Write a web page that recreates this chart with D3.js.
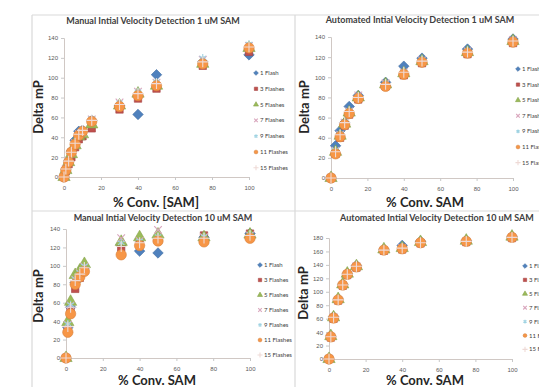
<!DOCTYPE html>
<html>
<head>
<meta charset="utf-8">
<script src="https://cdn.jsdelivr.net/npm/d3@7"></script>
<style>
  body { margin: 0; background: #fff; }
  svg { display: block; font-family: Lato, "Open Sans", sans-serif; }
</style>
</head>
<body>
<svg id="chart" width="539" height="387"></svg>
<script>
// series shared by all four panels
const seriesNames  = ['1 Flash', '3 Flashes', '5 Flashes', '7 Flashes', '9 Flashes', '11 Flashes', '15 Flashes'];
const seriesColors = ['#4f81bd', '#c0504d', '#9bbb59', '#d9a6bd', '#9fd3e2', '#f79646', '#eedad6'];

const xTicks     = [0, 20, 40, 60, 80, 100];
const yTicks140  = [0, 20, 40, 60, 80, 100, 120, 140];
const yTicks180  = [0, 20, 40, 60, 80, 100, 120, 140, 160, 180];

// Manual, 1 uM SAM
const manual1X = [0, 1, 2.5, 4, 6, 8, 10, 15, 30, 40, 50, 75, 100];
const manual1Y = [
  [0, 8, 16, 26, 37, 46, 47, 57, 72, 63, 103, 116, 123],
  [0, 6, 13, 20, 30, 38, 41, 49, 68, 79, 89, 112, 126],
  [0, 7, 15, 23, 32, 41, 43, 53, 72, 84, 92, 114, 130],
  [0, 8, 16, 25, 34, 43, 45, 58, 75, 86, 95, 118, 132],
  [0, 8, 17, 26, 35, 44, 46, 59, 75, 86, 96, 120, 134],
  [0, 7, 15, 25, 33, 42, 46, 56, 71, 82, 92, 114, 130],
  [0, 8, 16, 25, 34, 43, 47, 57, 73, 84, 94, 116, 131]
];

// Automated, 1 uM SAM
const auto1X = [0, 2.5, 5, 7.5, 10, 15, 30, 40, 50, 75, 100];
const auto1Y = [
  [0, 32, 47, 55, 71, 82, 95, 111, 119, 128, 138],
  [0, 24, 40, 52, 63, 78, 91, 102, 114, 123, 134],
  [0, 26, 42, 54, 65, 80, 93, 104, 116, 125, 136],
  [0, 27, 43, 55, 66, 82, 94, 105, 117, 126, 137],
  [0, 28, 44, 56, 67, 81, 94, 106, 118, 127, 137],
  [0, 24, 41, 53, 64, 79, 91, 103, 115, 124, 135],
  [0, 26, 43, 55, 66, 80, 93, 105, 116, 125, 136]
];

// Manual, 10 uM SAM
const manual10X = [0, 1, 2.5, 5, 7.5, 10, 30, 40, 50, 75, 100];
const manual10Y = [
  [0, 33, 55, 82, 90, 98, 123, 116, 114, 131, 135],
  [0, 31, 50, 75, 87, 95, 120, 123, 128, 133, 135],
  [0, 39, 61, 90, 95, 102, 126, 131, 134, 131, 134],
  [0, 36, 57, 85, 92, 99, 130, 127, 139, 131, 133],
  [0, 37, 58, 86, 93, 100, 125, 127, 132, 132, 134],
  [0, 28, 48, 80, 88, 94, 112, 122, 127, 126, 130],
  [0, 34, 55, 84, 91, 98, 121, 125, 130, 130, 133]
];

// Automated, 10 uM SAM
const auto10X = [0, 1, 2.5, 5, 7.5, 10, 15, 30, 40, 50, 75, 100];
const auto10Y = [
  [0, 34, 63, 89, 111, 127, 139, 163, 169, 175, 176, 182],
  [0, 32, 60, 87, 109, 125, 136, 161, 163, 172, 174, 180],
  [0, 34, 62, 89, 111, 127, 138, 163, 165, 174, 176, 182],
  [0, 33, 62, 88, 110, 126, 138, 162, 165, 173, 175, 181],
  [0, 33, 62, 88, 110, 126, 138, 162, 165, 173, 175, 181],
  [0, 33, 61, 88, 110, 126, 137, 162, 164, 173, 175, 181],
  [0, 33, 62, 88, 110, 126, 138, 162, 165, 173, 175, 181]
];

const sym = (s, fb) => s || fb;
// diamond = square turned 45deg (Excel style, not d3's narrow diamond)
const shapes = [
  d3.symbolSquare,
  d3.symbolSquare,
  d3.symbolTriangle,
  sym(d3.symbolX, d3.symbolCross),
  sym(d3.symbolAsterisk, d3.symbolStar),
  d3.symbolCircle,
  sym(d3.symbolPlus, d3.symbolCross)
];
const strokeShape = [false, false, false, true, true, false, true];

const panels = [
  {
    title: 'Manual Intial Velocity Detection 1 uM SAM', xTitle: '% Conv. [SAM]',
    xs: manual1X, ys: manual1Y, yTicks: yTicks140,
    px: [64, 249], py: [177, 38], titleAt: [153, 24], xTitleAt: [156, 207], yTitleAt: [43, 107],
    legend: [256, 73, 15.8]
  },
  {
    title: 'Automated Intial Velocity Detection 1 uM SAM', xTitle: '% Conv. SAM',
    xs: auto1X, ys: auto1Y, yTicks: yTicks140,
    px: [331, 513], py: [178, 37], titleAt: [420, 23], xTitleAt: [425, 207], yTitleAt: [309, 107],
    legend: [518, 69, 15.6]
  },
  {
    title: 'Manual Intial Velocity Detection 10 uM SAM', xTitle: '% Conv. SAM',
    xs: manual10X, ys: manual10Y, yTicks: yTicks140,
    px: [66, 250], py: [358, 229], titleAt: [163, 221], xTitleAt: [157, 385], yTitleAt: [43, 296],
    legend: [260, 265, 15]
  },
  {
    title: 'Automated Intial Velocity Detection 10 uM SAM', xTitle: '% Conv. SAM',
    xs: auto10X, ys: auto10Y, yTicks: yTicks180,
    px: [329, 512], py: [359, 238], titleAt: [437, 221], xTitleAt: [425, 385], yTitleAt: [308, 293],
    legend: [525, 266, 13.9]
  }
];

const svg = d3.select('#chart');

// panel frames
const frame = svg.append('g').attr('stroke', '#d9d9d9').attr('stroke-width', 1.2);
frame.append('line').attr('x1', 32).attr('x2', 32).attr('y1', 15).attr('y2', 387);
frame.append('line').attr('x1', 295).attr('x2', 295).attr('y1', 15).attr('y2', 387);
frame.append('line').attr('x1', 32).attr('x2', 539).attr('y1', 15).attr('y2', 15);
frame.append('line').attr('x1', 32).attr('x2', 539).attr('y1', 211).attr('y2', 211);

function drawMarker(g, i, size, cx, cy) {
  const path = d3.symbol().type(shapes[i]).size(size);
  const p = g.append('path').attr('d', path)
    .attr('transform', `translate(${cx},${cy})` + (i === 0 ? ' rotate(45)' : ''));
  if (strokeShape[i]) {
    p.attr('fill', 'none').attr('stroke', seriesColors[i]).attr('stroke-width', 1.1);
  } else {
    p.attr('fill', seriesColors[i])
     .attr('stroke', d3.color(seriesColors[i]).darker(0.4))
     .attr('stroke-width', 0.6);
  }
  return p;
}

panels.forEach(pn => {
  const g = svg.append('g');
  const ymax = d3.max(pn.yTicks);
  const x = d3.scaleLinear().domain([0, 100]).range(pn.px);
  const y = d3.scaleLinear().domain([0, ymax]).range(pn.py);

  // axes
  const yAxis = g.append('g')
    .attr('transform', `translate(${pn.px[0]},0)`)
    .call(d3.axisLeft(y).tickValues(pn.yTicks).tickSize(3).tickPadding(3));
  const xAxis = g.append('g')
    .attr('transform', `translate(0,${y(0)})`)
    .call(d3.axisBottom(x).tickValues(xTicks).tickSize(3).tickPadding(6));
  [yAxis, xAxis].forEach(a => {
    a.selectAll('.domain').attr('stroke', '#d0c8c4');
    a.selectAll('.tick line').attr('stroke', '#c8c8c8');
    a.selectAll('.tick text').attr('fill', '#595959').attr('font-size', 6);
  });

  // titles
  g.append('text')
    .attr('x', pn.titleAt[0]).attr('y', pn.titleAt[1])
    .attr('text-anchor', 'middle').attr('font-size', 9).attr('font-weight', 'bold')
    .attr('fill', '#404040').text(pn.title);
  g.append('text')
    .attr('x', pn.xTitleAt[0]).attr('y', pn.xTitleAt[1])
    .attr('text-anchor', 'middle').attr('font-size', 13).attr('font-weight', 'bold')
    .attr('fill', '#262626').text(pn.xTitle);
  g.append('text')
    .attr('transform', `translate(${pn.yTitleAt[0]},${pn.yTitleAt[1]}) rotate(-90)`)
    .attr('text-anchor', 'middle').attr('font-size', 13).attr('font-weight', 'bold')
    .attr('fill', '#262626').text('Delta mP');

  // points, series in order so later ones sit on top
  pn.ys.forEach((vals, i) => {
    const sg = g.append('g').attr('class', 'series');
    const size = strokeShape[i] ? 40 : (i === 5 ? 85 : (i === 2 ? 65 : 55));
    vals.forEach((v, k) => drawMarker(sg, i, size, x(pn.xs[k]), y(v)));
  });

  // legend
  const lg = g.append('g');
  seriesNames.forEach((name, i) => {
    const ly = pn.legend[1] + i * pn.legend[2];
    drawMarker(lg, i, strokeShape[i] ? 10 : 11, pn.legend[0], ly);
    lg.append('text')
      .attr('x', pn.legend[0] + 4).attr('y', ly + 2)
      .attr('font-size', 6).attr('fill', '#404040').text(name);
  });
});
</script>
</body>
</html>
